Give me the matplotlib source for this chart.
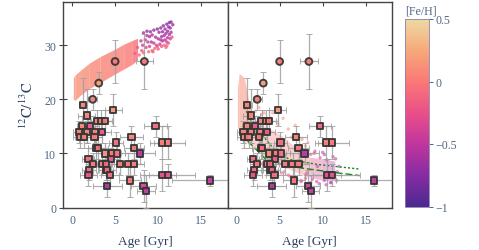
import matplotlib
matplotlib.use('Agg')
import matplotlib.pyplot as plt
import matplotlib.colors as colors
from matplotlib.cm import ScalarMappable

plt.rcParams['font.family'] = ['Liberation Serif', 'DejaVu Serif']
plt.rcParams['mathtext.fontset'] = 'stix'

TXT = '#2a3f5f'
TICKTXT = '#506784'
SPINE = '#444444'
ERR = '#a0a0a0'

AGSUNSET = ['#4b2991', '#872ca2', '#c0369d', '#ea4f88', '#fa7876', '#f6a97a', '#edd9a3']
cmap = colors.LinearSegmentedColormap.from_list('agsunset', AGSUNSET)
norm = colors.Normalize(vmin=-1, vmax=0.5)

# stars, circles
circ_age = [5.0, 8.4, 3.1, 2.4]
circ_ratio = [27, 27, 23, 20]
circ_xerr = [0.0, 1.0, 0.3, 0.5]
circ_yerr = [4, 5, 2, 2]
circ_feh = [0.0, 0.0, 0.2, 0.05]

# stars, squares
sq_age = [1.25, 1.7, 2.9, 3.4, 3.8, 4.8, 9.7, 1.2, 2.1, 0.8, 1.7, 2.7, 3.5, 0.9, 1.4, 2.6, 6.9,
          5.1, 10.4, 11.1, 2.8, 3.0, 7.2, 3.8, 4.6, 5.2, 7.9, 1.9, 4.5, 2.4, 3.5, 3.9, 5.6, 6.5, 7.2,
          3.9, 4.1, 2.0, 1.9, 4.4, 10.5, 11.1, 6.7, 16.0, 4.1, 8.3, 8.6]
sq_ratio = [19, 17, 16, 16, 16, 18, 15, 15, 15, 14, 14, 14, 14, 13, 13, 13, 13,
            12, 12, 12, 11, 11, 11, 10, 10, 10, 10, 9, 9, 8, 8, 8, 8, 8, 8,
            7, 7, 7, 6, 6, 6, 6, 5, 5, 4, 4, 3]
sq_xerr = [0.5, 1.0, 1.0, 1.2, 1.0, 1.0, 1.3, 0.6, 1.0, 0.7, 1.0, 0.8, 1.0, 0.8, 1.0, 0.9, 1.3,
           0.8, 0.9, 2.0, 1.0, 1.2, 1.2, 1.0, 1.1, 1.0, 1.7, 0.7, 1.0, 0.8, 1.0, 1.0, 1.0, 1.0, 1.2,
           0.9, 1.0, 0.8, 1.0, 1.0, 1.6, 3.2, 1.3, 4.4, 1.7, 1.4, 1.0]
sq_yerr = [5, 5, 2, 2, 2, 3, 2, 2, 2, 2, 2, 2, 2, 2, 2, 2, 2,
           2, 3, 3, 2, 2, 2, 2, 2, 2, 2, 2, 2, 2, 2, 2, 2, 2, 2,
           2, 2, 2, 2, 2, 3, 2, 3, 1, 2, 3, 3]
sq_feh = [0.05, 0.05, 0.05, 0.05, 0.0, 0.15, -0.1, 0.05, -0.2, 0.05, 0.05, 0.05, -0.2, 0.05, 0.05, 0.0, 0.05,
          -0.1, 0.0, -0.02, -0.05, -0.05, -0.05, 0.1, 0.0, -0.05, -0.55, -0.1, -0.2, 0.0, 0.0, -0.1, 0.0, 0.0, 0.0,
          -0.1, -0.1, -0.1, -0.25, -0.1, -0.3, -0.25, -0.05, -0.5, -0.6, -0.4, -0.5]

# left panel: model band, read as an envelope
left_age = [0.15, 0.35, 1.0, 2.0, 3.25, 5.0, 6.0, 7.0, 7.6]
left_low = [20.0, 19.8, 20.8, 22.0, 23.1, 24.7, 25.6, 26.5, 27.3]
left_high = [24.0, 24.5, 25.4, 26.7, 27.9, 29.3, 30.2, 30.9, 31.3]
left_feh = [0.12, 0.12, 0.1, 0.08, 0.05, 0.03, 0.0, -0.05, -0.1]

# left panel: old end of the band, individual points
lp_age = [7.3, 7.6, 7.8, 8.0, 8.1, 8.3, 8.3, 8.5, 8.6, 8.7, 8.8, 8.9, 9.0, 9.0, 9.1, 9.2, 9.3, 9.3, 9.5, 9.5, 9.6, 9.7, 9.8, 9.9, 10.0,
          10.0, 10.1, 10.2, 10.3, 10.3, 10.4, 10.5, 10.5, 10.6, 10.7, 10.7, 10.8, 10.8, 10.9, 11.0, 11.0, 11.0, 11.1, 11.1, 11.2, 11.2, 11.3, 11.3, 11.4, 11.4, 11.5, 11.5, 11.6, 11.7, 8.2, 8.7, 9.4, 9.9, 10.4, 10.9]
lp_ratio = [28.5, 29.6, 28.2, 30.8, 29.0, 32.3, 28.6, 31.0, 29.6, 32.6, 30.6, 28.8, 31.6, 29.8, 32.5, 30.6, 29.0, 31.9, 30.4, 32.8, 29.4, 31.5, 30.0, 33.0, 31.2,
            29.3, 32.4, 30.2, 33.2, 31.0, 29.8, 32.5, 30.8, 33.6, 31.8, 30.0, 33.0, 31.0, 32.2, 33.9, 30.6, 29.9, 32.6, 31.4, 33.4, 30.4, 32.0, 34.2, 31.2, 33.2, 32.4, 34.3, 31.5, 33.8, 30.0, 31.8, 28.8, 29.8, 31.6, 29.6]
lp_feh = [-0.15, -0.2, -0.05, -0.45, -0.2, -0.6, -0.1, -0.5, -0.3, -0.65, -0.45, -0.05, -0.6, -0.4, -0.65, -0.5, -0.1, -0.6, -0.45, -0.7, -0.1, -0.55, -0.3, -0.7, -0.6,
          -0.15, -0.65, -0.45, -0.7, -0.55, -0.2, -0.65, -0.5, -0.7, -0.6, -0.1, -0.65, -0.55, -0.6, -0.7, -0.4, -0.1, -0.65, -0.55, -0.65, -0.2, -0.6, -0.7, -0.4, -0.65, -0.55, -0.7, -0.2, -0.65, -0.4, -0.55, -0.1, -0.2, -0.6, -0.05]

# right panel: young strip, read as an envelope
strip_age = [0.1, 0.3, 0.9, 1.3, 1.8]
strip_low = [15.0, 14.0, 13.0, 13.0, 12.5]
strip_high = [22.0, 24.8, 24.0, 20.5, 17.5]
strip_feh = [0.12, 0.12, 0.1, 0.08, 0.06]

# right panel: model cloud, read as an envelope
right_age = [0.6, 1.6, 3.4, 5.0, 7.0, 8.5, 10.0, 11.4]
right_low = [12.5, 11.5, 9.0, 7.8, 6.5, 5.6, 5.0, 5.0]
right_high = [15.5, 16.0, 15.0, 13.5, 11.0, 9.3, 9.0, 8.6]
right_feh = [0.08, 0.06, 0.03, 0.0, -0.08, -0.3, -0.5, -0.55]

# right panel: strays around the cloud
rp_age = [2.2, 2.9, 3.6, 4.2, 4.8, 5.4, 6.0, 6.4, 6.8, 7.0, 7.6, 8.0, 8.3, 3.0, 4.0, 5.2, 6.0, 6.9, 7.5, 8.0, 8.6, 9.0, 9.4, 9.7, 10.0, 10.2, 10.5, 10.8, 11.2, 11.5, 11.7, 11.9,
          8.0, 8.8, 9.3, 10.2, 10.9, 5.5, 6.2, 7.0, 4.0, 3.2, 2.6, 7.5, 8.2, 9.6, 10.4, 11.0, 11.6, 9.1, 8.6]
rp_ratio = [17.8, 17.2, 16.2, 17.5, 15.4, 16.5, 14.5, 13.0, 15.2, 12.6, 12.6, 11.4, 12.0, 8.2, 7.4, 6.4, 6.0, 5.6, 5.0, 6.0, 9.8, 10.0, 7.6, 9.2, 10.2, 9.8, 8.8, 6.2, 9.4, 9.0, 6.6, 7.6,
            5.4, 5.2, 4.8, 5.0, 4.6, 6.6, 5.8, 5.2, 16.5, 17.5, 18.5, 4.8, 6.4, 4.4, 4.2, 4.6, 5.0, 10.4, 4.6]
rp_feh = [0.12, 0.12, 0.1, 0.15, 0.1, 0.15, 0.1, 0.05, 0.2, 0.1, 0.05, 0.05, 0.1, 0.0, -0.05, -0.1, -0.15, -0.2, -0.3, -0.3, -0.3, -0.2, -0.45, -0.4, -0.5, -0.6, -0.5, -0.5, -0.55, -0.5, -0.55, -0.55,
          -0.4, -0.4, -0.45, -0.5, -0.5, -0.2, -0.3, -0.35, 0.1, 0.15, 0.15, -0.35, -0.35, -0.5, -0.55, -0.55, -0.55, -0.5, -0.45]

# right panel: green model curves
dash_age = [1.3, 3.4, 5.7, 11.2, 14.3]
dash_ratio = [12.3, 8.9, 7.7, 6.5, 5.9]
dot_age = [0.9, 1.9, 4.2, 6.1, 9.2, 14.3]
dot_ratio = [18.5, 15.4, 11.1, 8.9, 8.0, 7.1]

XTICKS = [0, 5, 10, 15]
YTICKS = [0, 10, 20, 30]
CBTICKS = [-1, -0.5, 0, 0.5]
CBLABS = ['\u22121', '\u22120.5', '0', '0.5']


def envelope(ax, age, low, high, feh, alpha):
   for ii in range(len(age) - 1):
      ax.fill_between(age[ii:ii + 2], low[ii:ii + 2], high[ii:ii + 2], color=cmap(norm(feh[ii])), lw=0, alpha=alpha, zorder=1)


def stars(ax):
   ax.errorbar(sq_age, sq_ratio, xerr=sq_xerr, yerr=sq_yerr, ls='none', ecolor=ERR, elinewidth=0.9, capsize=2, capthick=0.7, alpha=0.85, zorder=3)
   ax.errorbar(circ_age, circ_ratio, xerr=circ_xerr, yerr=circ_yerr, ls='none', ecolor=ERR, elinewidth=0.9, capsize=2, capthick=0.7, alpha=0.85, zorder=3)
   ax.scatter(sq_age, sq_ratio, c=sq_feh, cmap=cmap, norm=norm, marker='s', s=20, edgecolors='#333333', linewidths=1.4, alpha=0.92, zorder=4)
   ax.scatter(circ_age, circ_ratio, c=circ_feh, cmap=cmap, norm=norm, marker='o', s=24, edgecolors='#333333', linewidths=1.4, alpha=0.92, zorder=4)


def style(ax, left):
   ax.set_xlim(-1.05, 18.05)
   ax.set_ylim(0, 38)
   ax.set_xticks(XTICKS)
   ax.set_yticks(YTICKS)
   ax.tick_params(axis='x', which='major', bottom=False, top=True, direction='in', length=3, width=0.8, color=SPINE, labelsize=8.6, labelcolor=TICKTXT, pad=5)
   ax.tick_params(axis='y', which='major', left=True, right=True, direction='inout', length=6, width=0.8, color=SPINE, labelsize=8.6, labelcolor=TICKTXT, labelleft=left, pad=2)
   for sp in ax.spines.values():
      sp.set_color(SPINE)
      sp.set_linewidth(1.0)
   ax.set_xlabel('Age [Gyr]', fontsize=9.5, color=TXT, labelpad=6)


fig = plt.figure(figsize=(4.79, 2.51), dpi=100)
ax1 = fig.add_axes([63 / 479, 42.5 / 251, 164.5 / 479, 205.5 / 251])
ax2 = fig.add_axes([227.5 / 479, 42.5 / 251, 164.5 / 479, 205.5 / 251])

envelope(ax1, left_age, left_low, left_high, left_feh, 0.8)
ax1.scatter(lp_age, lp_ratio, c=lp_feh, cmap=cmap, norm=norm, s=6, linewidths=0, alpha=0.8, zorder=2)
stars(ax1)
style(ax1, True)
ax1.set_ylabel(r'$^{12}\mathrm{C}/^{13}\mathrm{C}$', fontsize=10.5, color=TXT, labelpad=6)

envelope(ax2, strip_age, strip_low, strip_high, strip_feh, 0.55)
envelope(ax2, right_age, right_low, right_high, right_feh, 0.35)
ax2.scatter(rp_age, rp_ratio, c=rp_feh, cmap=cmap, norm=norm, s=6, linewidths=0, alpha=0.55, zorder=2)
ax2.plot(dash_age, dash_ratio, color='#118811', ls=(0, (5, 2)), lw=1.0, zorder=2.5)
ax2.plot(dot_age, dot_ratio, color='#118811', ls=(0, (1.5, 1.5)), lw=1.0, zorder=2.5)
stars(ax2)
style(ax2, False)
ax2.tick_params(axis='y', right=True, direction='in', length=3)
ax2.tick_params(axis='y', which='major', left=True, labelleft=False)

cax = fig.add_axes([405 / 479, 43.5 / 251, 24 / 479, 187.5 / 251])
cb = fig.colorbar(ScalarMappable(norm=norm, cmap=cmap), cax=cax)
cb.set_ticks(CBTICKS, labels=CBLABS)
cb.ax.tick_params(length=3, width=0.7, color=TICKTXT, labelsize=8.6, labelcolor=TICKTXT, pad=1.5)
cb.outline.set_edgecolor('#8a80b0')
cb.outline.set_linewidth(0.6)
fig.text(405 / 479, 1 - 11.5 / 251, '[Fe/H]', fontsize=8.6, color=TICKTXT, ha='left', va='center')

plt.savefig('out.png', dpi=100)
plt.close()
